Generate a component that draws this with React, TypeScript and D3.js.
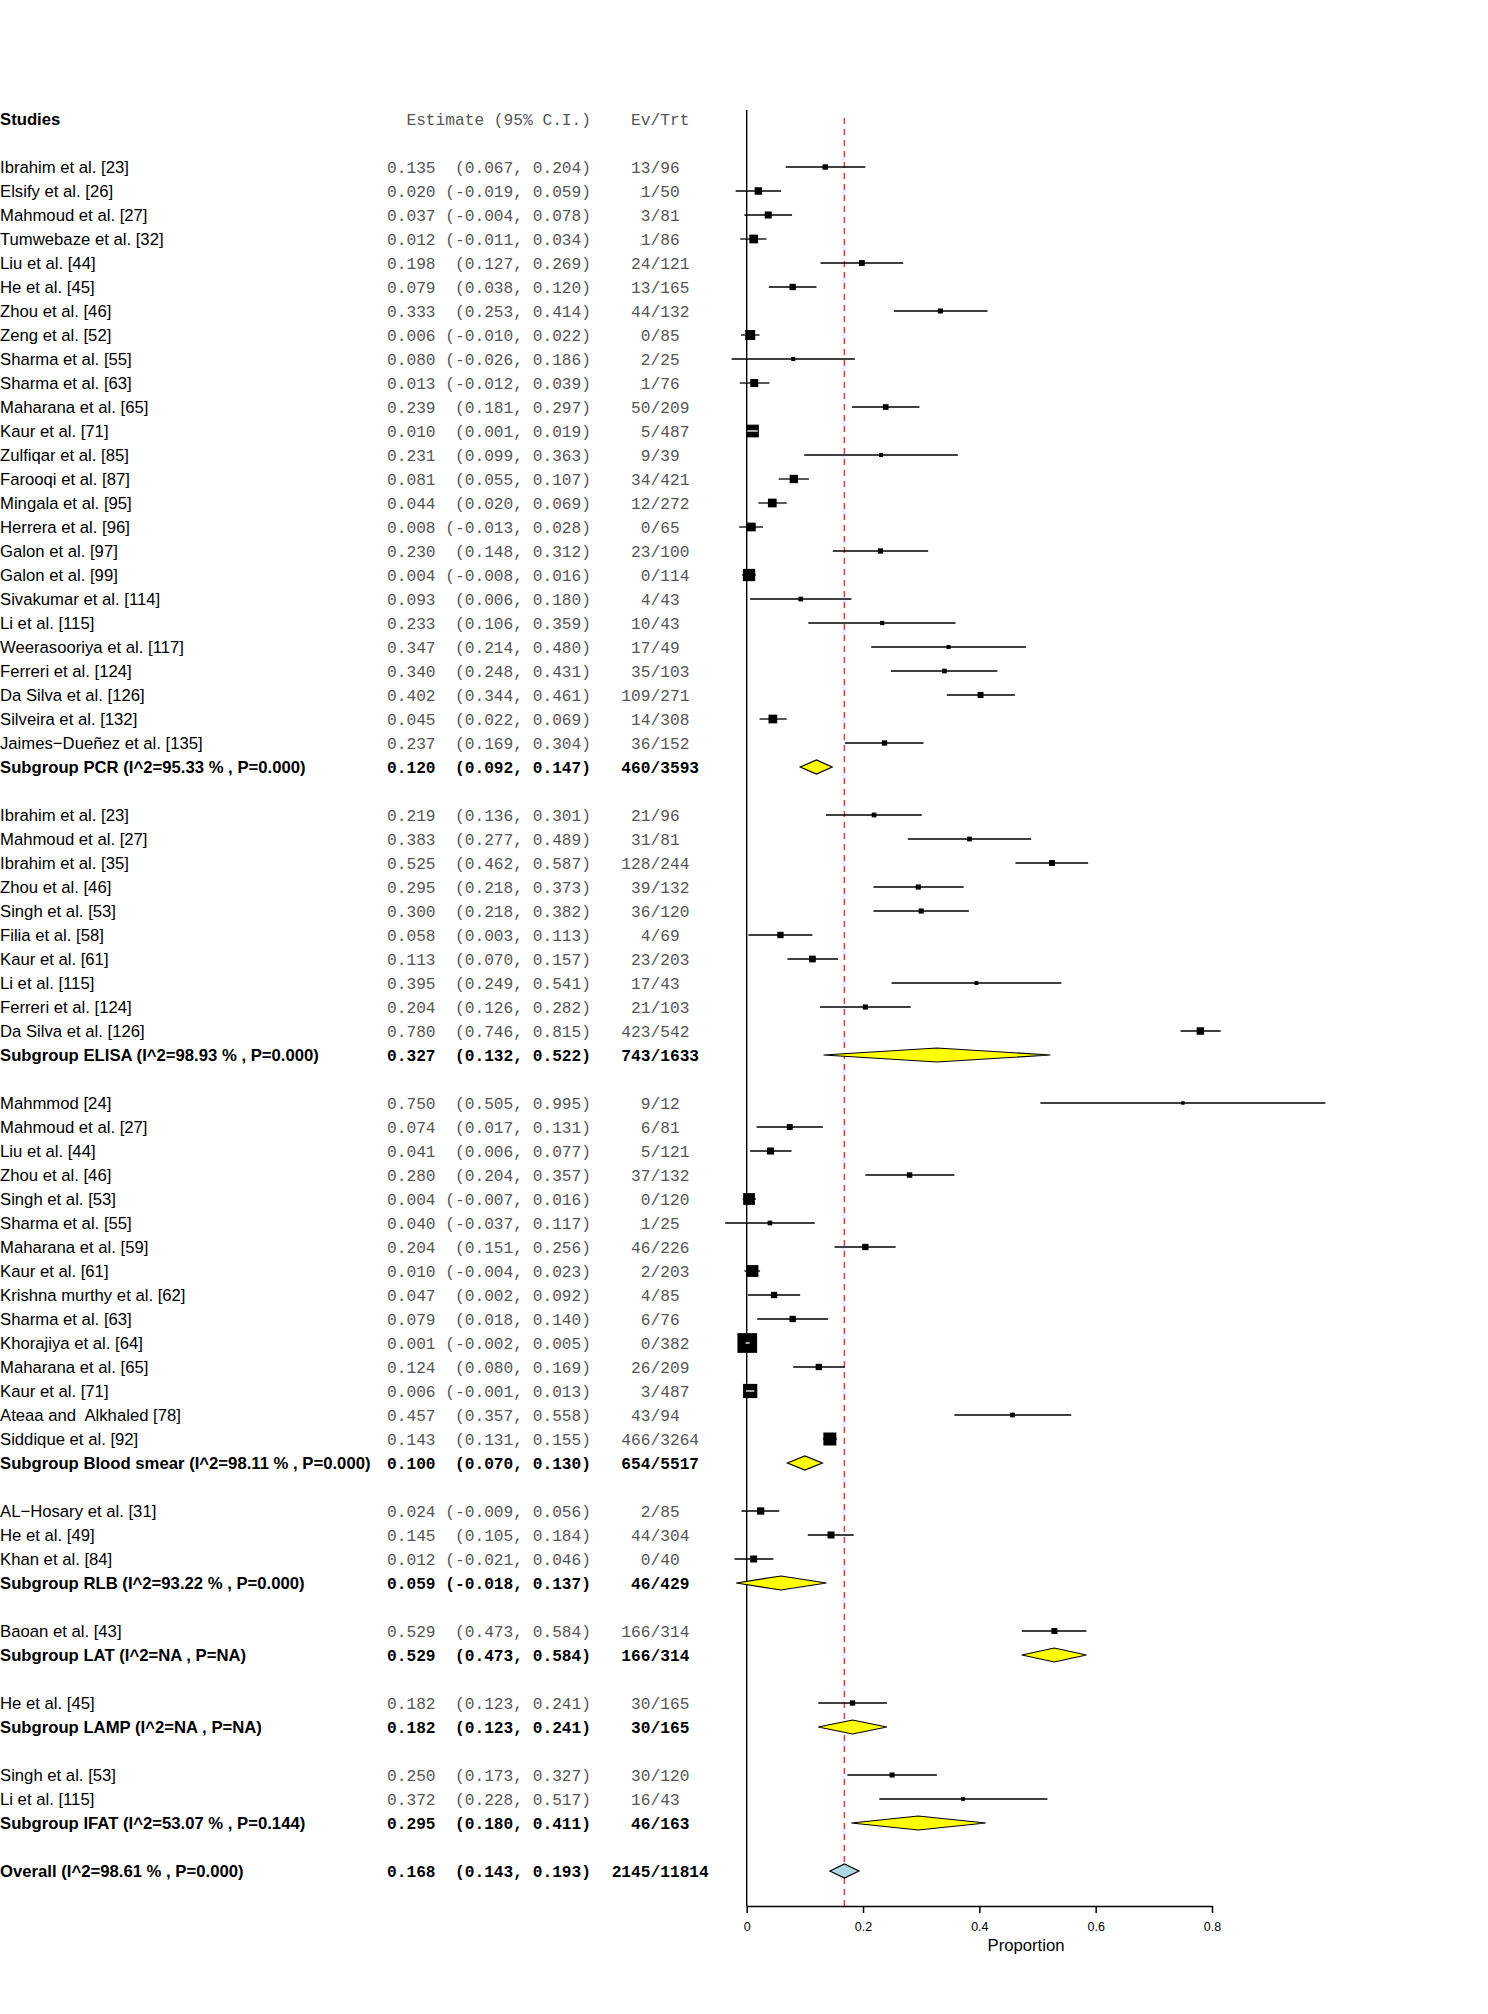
import React, { useEffect, useRef } from "react";
import * as d3 from "d3";

// ---------- DATA ----------
const groupNames = ["PCR", "ELISA", "Blood smear", "RLB", "LAT", "LAMP", "IFAT"];
const groupI2 = ["95.33 %", "98.93 %", "98.11 %", "93.22 %", "NA", "NA", "53.07 %"];
const groupP = ["0.000", "0.000", "0.000", "0.000", "NA", "NA", "0.144"];
const groupEst = [0.120, 0.327, 0.100, 0.059, 0.529, 0.182, 0.295];
const groupLower = [0.092, 0.132, 0.070, -0.018, 0.473, 0.123, 0.180];
const groupUpper = [0.147, 0.522, 0.130, 0.137, 0.584, 0.241, 0.411];
const groupEvents = [460, 743, 654, 46, 166, 30, 46];
const groupTotals = [3593, 1633, 5517, 429, 314, 165, 163];

const studyGroup = [
  0, 0, 0, 0, 0, 0, 0, 0, 0, 0, 0, 0, 0, 0, 0, 0, 0, 0, 0, 0, 0, 0, 0, 0, 0,
  1, 1, 1, 1, 1, 1, 1, 1, 1, 1,
  2, 2, 2, 2, 2, 2, 2, 2, 2, 2, 2, 2, 2, 2, 2,
  3, 3, 3,
  4,
  5,
  6, 6,
];
const studyNames = [
  "Ibrahim et al. [23]", "Elsify et al. [26]", "Mahmoud et al. [27]", "Tumwebaze et al. [32]",
  "Liu et al. [44]", "He et al. [45]", "Zhou et al. [46]", "Zeng et al. [52]", "Sharma et al. [55]",
  "Sharma et al. [63]", "Maharana et al. [65]", "Kaur et al. [71]", "Zulfiqar et al. [85]",
  "Farooqi et al. [87]", "Mingala et al. [95]", "Herrera et al. [96]", "Galon et al. [97]",
  "Galon et al. [99]", "Sivakumar et al. [114]", "Li et al. [115]", "Weerasooriya et al. [117]",
  "Ferreri et al. [124]", "Da Silva et al. [126]", "Silveira et al. [132]", "Jaimes\u2212Due\u00f1ez et al. [135]",
  "Ibrahim et al. [23]", "Mahmoud et al. [27]", "Ibrahim et al. [35]", "Zhou et al. [46]",
  "Singh et al. [53]", "Filia et al. [58]", "Kaur et al. [61]", "Li et al. [115]",
  "Ferreri et al. [124]", "Da Silva et al. [126]",
  "Mahmmod [24]", "Mahmoud et al. [27]", "Liu et al. [44]", "Zhou et al. [46]", "Singh et al. [53]",
  "Sharma et al. [55]", "Maharana et al. [59]", "Kaur et al. [61]", "Krishna murthy et al. [62]",
  "Sharma et al. [63]", "Khorajiya et al. [64]", "Maharana et al. [65]", "Kaur et al. [71]",
  "Ateaa and  Alkhaled [78]", "Siddique et al. [92]",
  "AL\u2212Hosary et al. [31]", "He et al. [49]", "Khan et al. [84]",
  "Baoan et al. [43]",
  "He et al. [45]",
  "Singh et al. [53]", "Li et al. [115]",
];
const studyEst = [
  0.135, 0.020, 0.037, 0.012, 0.198, 0.079, 0.333, 0.006, 0.080, 0.013, 0.239, 0.010, 0.231,
  0.081, 0.044, 0.008, 0.230, 0.004, 0.093, 0.233, 0.347, 0.340, 0.402, 0.045, 0.237,
  0.219, 0.383, 0.525, 0.295, 0.300, 0.058, 0.113, 0.395, 0.204, 0.780,
  0.750, 0.074, 0.041, 0.280, 0.004, 0.040, 0.204, 0.010, 0.047, 0.079, 0.001, 0.124, 0.006,
  0.457, 0.143,
  0.024, 0.145, 0.012,
  0.529,
  0.182,
  0.250, 0.372,
];
const studyLower = [
  0.067, -0.019, -0.004, -0.011, 0.127, 0.038, 0.253, -0.010, -0.026, -0.012, 0.181, 0.001, 0.099,
  0.055, 0.020, -0.013, 0.148, -0.008, 0.006, 0.106, 0.214, 0.248, 0.344, 0.022, 0.169,
  0.136, 0.277, 0.462, 0.218, 0.218, 0.003, 0.070, 0.249, 0.126, 0.746,
  0.505, 0.017, 0.006, 0.204, -0.007, -0.037, 0.151, -0.004, 0.002, 0.018, -0.002, 0.080, -0.001,
  0.357, 0.131,
  -0.009, 0.105, -0.021,
  0.473,
  0.123,
  0.173, 0.228,
];
const studyUpper = [
  0.204, 0.059, 0.078, 0.034, 0.269, 0.120, 0.414, 0.022, 0.186, 0.039, 0.297, 0.019, 0.363,
  0.107, 0.069, 0.028, 0.312, 0.016, 0.180, 0.359, 0.480, 0.431, 0.461, 0.069, 0.304,
  0.301, 0.489, 0.587, 0.373, 0.382, 0.113, 0.157, 0.541, 0.282, 0.815,
  0.995, 0.131, 0.077, 0.357, 0.016, 0.117, 0.256, 0.023, 0.092, 0.140, 0.005, 0.169, 0.013,
  0.558, 0.155,
  0.056, 0.184, 0.046,
  0.584,
  0.241,
  0.327, 0.517,
];
const studyEvents = [
  13, 1, 3, 1, 24, 13, 44, 0, 2, 1, 50, 5, 9, 34, 12, 0, 23, 0, 4, 10, 17, 35, 109, 14, 36,
  21, 31, 128, 39, 36, 4, 23, 17, 21, 423,
  9, 6, 5, 37, 0, 1, 46, 2, 4, 6, 0, 26, 3, 43, 466,
  2, 44, 0,
  166,
  30,
  30, 16,
];
const studyTotals = [
  96, 50, 81, 86, 121, 165, 132, 85, 25, 76, 209, 487, 39, 421, 272, 65, 100, 114, 43, 43, 49, 103, 271, 308, 152,
  96, 81, 244, 132, 120, 69, 203, 43, 103, 542,
  12, 81, 121, 132, 120, 25, 226, 203, 85, 76, 382, 209, 487, 94, 3264,
  85, 304, 40,
  314,
  165,
  120, 43,
];
// relative study weights (box area)
const studyWeight = [
  29, 56, 49, 76, 34, 40, 25, 100, 16, 64, 32, 161, 16, 69, 76, 76, 28, 151, 22, 18, 16, 22, 36, 76, 28,
  22, 22, 35, 26, 26, 40, 45, 15, 26, 56,
  12, 35, 50, 30, 139, 22, 40, 139, 40, 40, 388, 40, 202, 22, 169,
  53, 49, 49,
  36,
  28,
  25, 14,
];

const overallLabel = "Overall (I^2=98.61 % , P=0.000)";
const overallEst = 0.168;
const overallLower = 0.143;
const overallUpper = 0.193;
const overallEvents = 2145;
const overallTotals = 11814;

const axisTicks = [0, 0.2, 0.4, 0.6, 0.8];
const axisLabel = "Proportion";

// ---------- LAYOUT ----------
const W = 1488;
const H = 2014;
const SANS = "'Liberation Sans', Arial, Helvetica, sans-serif";
const MONO = "'Liberation Mono', 'Courier New', monospace";
const STAT_GREY = "#555555";

const fmtCI = (e: number, lo: number, hi: number) =>
  `${e.toFixed(3)}${lo < 0 ? " (" : "  ("}${lo.toFixed(3)}, ${hi.toFixed(3)})`;

type Row =
  | { kind: "study"; i: number; row: number }
  | { kind: "sub"; g: number; row: number }
  | { kind: "overall"; row: number };

function buildRows(): Row[] {
  const rows: Row[] = [];
  let r = 0;
  groupNames.forEach((_, g) => {
    studyNames.forEach((_, i) => {
      if (studyGroup[i] === g) rows.push({ kind: "study", i, row: r++ });
    });
    rows.push({ kind: "sub", g, row: r++ });
    r++;
  });
  rows.push({ kind: "overall", row: r });
  return rows;
}

export default function App() {
  const axisRef = useRef<SVGGElement>(null);
  const rows = buildRows();
  const lastRow = rows[rows.length - 1].row;

  const y = d3.scaleLinear().domain([-2, lastRow]).range([119, 119 + 24 * (lastRow + 2)]);
  const x = d3.scaleLinear().domain([0, 0.8]).range([746.7, 1212]);
  const boxSide = d3.scaleSqrt().domain([0, 400]).range([0, 20]);

  const axisY = y(lastRow) + 35;
  const colName = 0;
  const colStat = 387;
  const colSlash = 650.5;

  useEffect(() => {
    if (!axisRef.current) return;
    const g = d3.select(axisRef.current);
    g.selectAll("*").remove();
    g.call(
      d3
        .axisBottom(x)
        .tickValues(axisTicks)
        .tickFormat((d: any) => (d === 0 ? "0" : String(d)))
        .tickSize(7)
        .tickSizeOuter(0)
        .tickPadding(9)
    );
    g.select(".domain").attr("stroke", "#000").attr("stroke-width", 1.5);
    g.selectAll(".tick line").attr("stroke", "#000").attr("stroke-width", 1.5);
    g.selectAll(".tick text")
      .attr("font-family", SANS)
      .attr("font-size", 12.5)
      .attr("fill", "#000");
  }, []);

  const diamond = (e: number, lo: number, hi: number, yy: number) =>
    `M${x(lo)},${yy} L${x(e)},${yy - 7} L${x(hi)},${yy} L${x(e)},${yy + 7} Z`;

  const evTrt = (ev: number, n: number, yy: number, bold: boolean) => (
    <g fontFamily={MONO} fontSize={16.2} fontWeight={bold ? "bold" : "normal"} fill={bold ? "#000" : STAT_GREY}>
      <text x={colSlash} y={yy} dy="0.35em" textAnchor="end">{String(ev)}</text>
      <text x={colSlash} y={yy} dy="0.35em" textAnchor="start">{"/" + n}</text>
    </g>
  );

  return (
    <svg
      width={W}
      height={H}
      style={{ position: "absolute", left: 0, top: 0, display: "block", background: "#fff" }}
    >
      <rect x={0} y={0} width={W} height={H} fill="#fff" />

      {/* header */}
      <text x={colName} y={y(-2)} dy="0.35em" fontFamily={SANS} fontSize={16.7} fontWeight="bold" fill="#000">
        Studies
      </text>
      <text
        x={colStat}
        y={y(-2)}
        dy="0.35em"
        fontFamily={MONO}
        fontSize={16.2}
        fill={STAT_GREY}
        style={{ whiteSpace: "pre" }}
      >
        {"  Estimate (95% C.I.)"}
      </text>
      <g fontFamily={MONO} fontSize={16.2} fill={STAT_GREY}>
        <text x={colSlash} y={y(-2)} dy="0.35em" textAnchor="end">Ev</text>
        <text x={colSlash} y={y(-2)} dy="0.35em" textAnchor="start">/Trt</text>
      </g>

      {/* reference lines */}
      <line x1={x(0)} x2={x(0)} y1={110} y2={axisY} stroke="#000" strokeWidth={1.4} />
      <line
        x1={x(overallEst)}
        x2={x(overallEst)}
        y1={118}
        y2={axisY}
        stroke="#dd3b3b"
        strokeWidth={1.5}
        strokeDasharray="6,5"
      />

      {rows.map((r, k) => {
        const yy = y(r.row);
        if (r.kind === "study") {
          const i = r.i;
          const s = boxSide(studyWeight[i]);
          const cx = x(studyEst[i]);
          const x1 = x(studyLower[i]);
          const x2 = x(studyUpper[i]);
          const inside = x1 >= cx - s / 2 && x2 <= cx + s / 2;
          return (
            <g key={k}>
              <text x={colName} y={yy} dy="0.35em" fontFamily={SANS} fontSize={16.7} fill="#000" style={{ whiteSpace: "pre" }}>
                {studyNames[i]}
              </text>
              <text x={colStat} y={yy} dy="0.35em" fontFamily={MONO} fontSize={16.2} fill={STAT_GREY} style={{ whiteSpace: "pre" }}>
                {fmtCI(studyEst[i], studyLower[i], studyUpper[i])}
              </text>
              {evTrt(studyEvents[i], studyTotals[i], yy, false)}
              {!inside && <line x1={x1} x2={x2} y1={yy} y2={yy} stroke="#000" strokeWidth={1.3} />}
              <rect x={cx - s / 2} y={yy - s / 2} width={s} height={s} fill="#000" />
              {inside && <line x1={x1} x2={x2} y1={yy} y2={yy} stroke="#fff" strokeWidth={1.3} />}
            </g>
          );
        }
        if (r.kind === "sub") {
          const g = r.g;
          return (
            <g key={k}>
              <text x={colName} y={yy} dy="0.35em" fontFamily={SANS} fontSize={16.7} fontWeight="bold" fill="#000">
                {`Subgroup ${groupNames[g]} (I^2=${groupI2[g]} , P=${groupP[g]})`}
              </text>
              <text x={colStat} y={yy} dy="0.35em" fontFamily={MONO} fontSize={16.2} fontWeight="bold" fill="#000" style={{ whiteSpace: "pre" }}>
                {fmtCI(groupEst[g], groupLower[g], groupUpper[g])}
              </text>
              {evTrt(groupEvents[g], groupTotals[g], yy, true)}
              <path d={diamond(groupEst[g], groupLower[g], groupUpper[g], yy)} fill="#ffff00" stroke="#000" strokeWidth={1.2} />
            </g>
          );
        }
        return (
          <g key={k}>
            <text x={colName} y={yy} dy="0.35em" fontFamily={SANS} fontSize={16.7} fontWeight="bold" fill="#000">
              {overallLabel}
            </text>
            <text x={colStat} y={yy} dy="0.35em" fontFamily={MONO} fontSize={16.2} fontWeight="bold" fill="#000" style={{ whiteSpace: "pre" }}>
              {fmtCI(overallEst, overallLower, overallUpper)}
            </text>
            {evTrt(overallEvents, overallTotals, yy, true)}
            <path d={diamond(overallEst, overallLower, overallUpper, yy)} fill="#add8e6" stroke="#000" strokeWidth={1.2} />
          </g>
        );
      })}

      {/* x axis */}
      <g ref={axisRef} transform={`translate(0,${axisY})`} />
      <text x={1026} y={axisY + 39} dy="0.35em" textAnchor="middle" fontFamily={SANS} fontSize={16.7} fill="#000">
        {axisLabel}
      </text>
    </svg>
  );
}
